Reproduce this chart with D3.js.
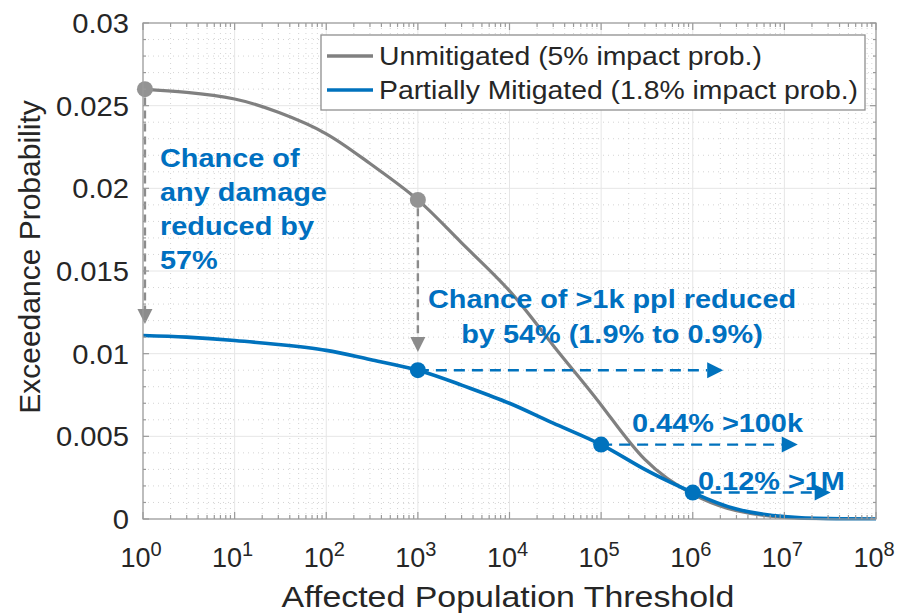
<!DOCTYPE html>
<html><head><meta charset="utf-8">
<script src="https://cdn.jsdelivr.net/npm/d3@7"></script>
<style>
body{margin:0;background:#fff}
text{font-family:"Liberation Sans",Arial,Helvetica,sans-serif}
</style>
</head><body>
<svg id="c" width="903" height="615"></svg>
<script>
// ---- data ----
const population = [1, 3, 10, 30, 100, 300, 1e3, 3e3, 1e4, 3e4, 1e5, 3e5, 1e6, 3e6, 1e7, 3e7, 1e8];
const unmitigated = [0.0260, 0.0258, 0.0254, 0.0246, 0.0233, 0.0215, 0.0193, 0.0167, 0.0138, 0.0105, 0.0069, 0.0036, 0.0015, 0.0005, 0.0001, 0.00001, 0];
const mitigated   = [0.0111, 0.0110, 0.0108, 0.01055, 0.0102, 0.00965, 0.0090, 0.0081, 0.0070, 0.0058, 0.0045, 0.0030, 0.0016, 0.0006, 0.00015, 0.00002, 0];
const unmitMarkerX = [1.05, 1000];
const unmitMarkerY = [0.0260, 0.0193];
const mitMarkerX = [1000, 1e5, 1e6];
const mitMarkerY = [0.0090, 0.0045, 0.0016];
const seriesNames = ["Unmitigated (5% impact prob.)", "Partially Mitigated (1.8% impact prob.)"];
const xTickExp = [0, 1, 2, 3, 4, 5, 6, 7, 8];
const yTicks = [0, 0.005, 0.01, 0.015, 0.02, 0.025, 0.03];
const yTickLabels = ["0", "0.005", "0.01", "0.015", "0.02", "0.025", "0.03"];
// annotation arrows [x1, y1, x2, y2] in data units
const grayArrows = [[1.05, 0.0255, 1.05, 0.0118], [1000, 0.0188, 1000, 0.0101]];
const blueArrows = [[1000, 0.0090, 2.15e6, 0.0090], [1e5, 0.0045, 1.4e7, 0.0045], [1e6, 0.0016, 3.2e7, 0.0016]];
const note1 = ["Chance of", "any damage", "reduced by", "57%"];
const note2 = ["Chance of >1k ppl reduced", "by 54% (1.9% to 0.9%)"];
const note3 = "0.44% >100k";
const note4 = "0.12% >1M";

// ---- setup ----
const svg = d3.select("#c");
const L = 143, R = 876, T = 23, B = 519;
const x = d3.scaleLog().domain([1, 1e8]).range([L, R]);
const y = d3.scaleLinear().domain([0, 0.03]).range([B, T]);
const GRAY = "#808080", BLUE = "#0072BD", TBLUE = "#0070C0";

svg.append("rect").attr("width", 903).attr("height", 615).attr("fill", "#fff");

// minor grid
const minorX = [];
for (let e = 0; e < 8; e++) for (let k = 2; k <= 9; k++) minorX.push(k * Math.pow(10, e));
const minorY = d3.range(0, 31).map(i => i * 0.001).filter(v => Math.round(v * 1000) % 5 !== 0);
const g = svg.append("g");
g.selectAll(".mgx").data(minorX).join("line")
  .attr("x1", d => x(d)).attr("x2", d => x(d)).attr("y1", T).attr("y2", B)
  .attr("stroke", "#d4d4d4").attr("stroke-width", 1).attr("stroke-dasharray", "1,4");
g.selectAll(".mgy").data(minorY).join("line")
  .attr("x1", L).attr("x2", R).attr("y1", d => y(d)).attr("y2", d => y(d))
  .attr("stroke", "#d4d4d4").attr("stroke-width", 1).attr("stroke-dasharray", "1,4");
// major grid
g.selectAll(".gx").data(xTickExp).join("line")
  .attr("x1", d => x(Math.pow(10, d))).attr("x2", d => x(Math.pow(10, d))).attr("y1", T).attr("y2", B)
  .attr("stroke", "#e6e6e6").attr("stroke-width", 1);
g.selectAll(".gy").data(yTicks).join("line")
  .attr("x1", L).attr("x2", R).attr("y1", d => y(d)).attr("y2", d => y(d))
  .attr("stroke", "#e6e6e6").attr("stroke-width", 1);

// ---- lines ----
const line = d3.line().x(d => x(d[0])).y(d => y(d[1])).curve(d3.curveNatural);
svg.append("clipPath").attr("id", "pc").append("rect")
  .attr("x", L).attr("y", T).attr("width", R - L).attr("height", B - T + 1.5);
svg.append("path").datum(population.map((p, i) => [p, unmitigated[i]]))
  .attr("clip-path", "url(#pc)")
  .attr("d", line).attr("fill", "none").attr("stroke", GRAY).attr("stroke-width", 3.2);
svg.append("path").datum(population.map((p, i) => [p, mitigated[i]]))
  .attr("clip-path", "url(#pc)")
  .attr("d", line).attr("fill", "none").attr("stroke", BLUE).attr("stroke-width", 3.6);

// ---- arrows ----
function arrow(a, color, dash, head) {
  const x1 = x(a[0]), y1 = y(a[1]), x2 = x(a[2]), y2 = y(a[3]);
  const dx = x2 - x1, dy = y2 - y1, len = Math.hypot(dx, dy);
  const ux = dx / len, uy = dy / len;
  const bx = x2 - ux * head, by = y2 - uy * head;
  svg.append("line").attr("x1", x1).attr("y1", y1).attr("x2", bx).attr("y2", by)
    .attr("stroke", color).attr("stroke-width", 2.4).attr("stroke-dasharray", dash);
  const hw = head / 2;
  svg.append("path")
    .attr("d", `M${x2},${y2}L${bx - uy * hw},${by + ux * hw}L${bx + uy * hw},${by - ux * hw}Z`)
    .attr("fill", color);
}
grayArrows.forEach(a => arrow(a, "#8c8c8c", "8,5", 15));
blueArrows.forEach(a => arrow(a, BLUE, "11,7", 16));

// markers
svg.selectAll(".gm").data(unmitMarkerX).join("circle")
  .attr("cx", d => x(d)).attr("cy", (d, i) => y(unmitMarkerY[i])).attr("r", 8).attr("fill", "#939393");
svg.selectAll(".bm").data(mitMarkerX).join("circle")
  .attr("cx", d => x(d)).attr("cy", (d, i) => y(mitMarkerY[i])).attr("r", 8).attr("fill", BLUE);

// ---- axes box & ticks ----
const ax = svg.append("g").attr("stroke", "#9a9a9a").attr("stroke-width", 1.2);
ax.append("rect").attr("x", L).attr("y", T).attr("width", R - L).attr("height", B - T).attr("fill", "none");
xTickExp.forEach(e => {
  const px = x(Math.pow(10, e));
  ax.append("line").attr("x1", px).attr("x2", px).attr("y1", B).attr("y2", B - 7);
  ax.append("line").attr("x1", px).attr("x2", px).attr("y1", T).attr("y2", T + 7);
});
minorX.forEach(v => {
  const px = x(v);
  ax.append("line").attr("x1", px).attr("x2", px).attr("y1", B).attr("y2", B - 4);
  ax.append("line").attr("x1", px).attr("x2", px).attr("y1", T).attr("y2", T + 4);
});
yTicks.forEach(v => {
  ax.append("line").attr("x1", L).attr("x2", L + 6).attr("y1", y(v)).attr("y2", y(v));
  ax.append("line").attr("x1", R).attr("x2", R - 6).attr("y1", y(v)).attr("y2", y(v));
});
minorY.forEach(v => {
  ax.append("line").attr("x1", L).attr("x2", L + 3).attr("y1", y(v)).attr("y2", y(v));
  ax.append("line").attr("x1", R).attr("x2", R - 3).attr("y1", y(v)).attr("y2", y(v));
});

// tick labels
svg.selectAll(".yl").data(yTicks).join("text")
  .attr("transform", d => `translate(129,${y(d) + 10}) scale(1.08,1)`)
  .attr("text-anchor", "end").attr("font-size", 27).attr("fill", "#262626")
  .text((d, i) => yTickLabels[i]);
xTickExp.forEach(e => {
  const t = svg.append("text").attr("transform", `translate(${x(Math.pow(10, e)) - 2},567)`)
    .attr("text-anchor", "middle").attr("font-size", 27).attr("fill", "#262626");
  t.append("tspan").text("10");
  t.append("tspan").attr("font-size", 20).attr("dy", -11).text(e);
});

// axis labels
svg.append("text").attr("transform", "translate(508,607) scale(1.13,1)")
  .attr("text-anchor", "middle").attr("font-size", 30).attr("fill", "#262626")
  .text("Affected Population Threshold");
svg.append("text").attr("transform", "translate(40,257) rotate(-90)")
  .attr("text-anchor", "middle").attr("font-size", 30).attr("fill", "#262626")
  .text("Exceedance Probability");

// ---- annotations ----
function btext(str, tx, ty, anchor) {
  svg.append("text").attr("transform", `translate(${tx},${ty}) scale(1.09,1)`)
    .attr("text-anchor", anchor || "start").attr("font-size", 26.5).attr("font-weight", "bold")
    .attr("fill", TBLUE).text(str);
}
note1.forEach((s, i) => btext(s, 160, 167 + i * 34));
note2.forEach((s, i) => btext(s, 612, 308 + i * 35, "middle"));
btext(note3, 632, 432);
btext(note4, 698, 490);

// ---- legend ----
const lg = svg.append("g");
lg.append("rect").attr("x", 321).attr("y", 35).attr("width", 544).attr("height", 75)
  .attr("fill", "#fff").attr("stroke", "#8f8f8f").attr("stroke-width", 1.3);
[GRAY, BLUE].forEach((c, i) => {
  const cy = 56 + i * 34;
  lg.append("line").attr("x1", 327).attr("x2", 373).attr("y1", cy).attr("y2", cy)
    .attr("stroke", c).attr("stroke-width", 3.4);
  lg.append("text").attr("transform", `translate(379,${cy + 9}) scale(1.07,1)`)
    .attr("font-size", 26.5).attr("fill", "#262626").text(seriesNames[i]);
});
</script>
</body></html>
